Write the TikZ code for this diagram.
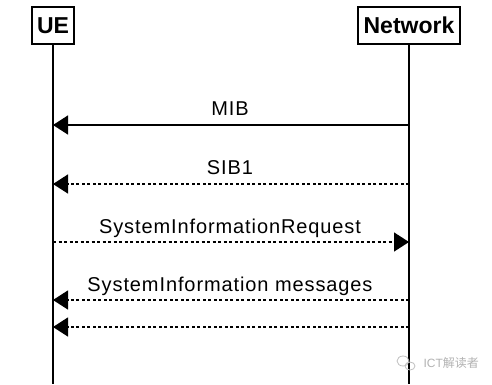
\documentclass[tikz,border=0pt]{standalone}
\usepackage{fontspec}
\setmainfont{Liberation Sans}
\newfontfamily\lblfont[LetterSpace=4.5]{Liberation Sans}
\newfontfamily\cjkfont{Noto Sans CJK SC}
\usetikzlibrary{arrows.meta}
\begin{document}
\begin{tikzpicture}[x=1pt,y=-1pt,
  entity/.style={draw,line width=1.4pt,minimum height=37pt,inner sep=0pt,font=\fontsize{23}{26}\selectfont\bfseries},
  life/.style={line width=1.4pt},
  msg/.style={line width=1.4pt,-{Triangle[length=15pt,width=19pt]}},
  dotmsg/.style={msg,dash pattern=on 3pt off 2.5pt},
  lbl/.style={font=\lblfont\fontsize{20}{24}\selectfont,anchor=base},
  wmark/.style={black!25,line width=0.8pt}]
\useasboundingbox (0,0) rectangle (492,384);
\node[entity,minimum width=42pt] (ue) at (53,25.5) {UE};
\node[entity,minimum width=102pt] (nw) at (409,25.5) {Network};
\coordinate (ueb) at (53,384);
\coordinate (nwb) at (409,384);
\draw[life] (ue.south) -- (ueb);
\draw[life] (nw.south) -- (nwb);
% message anchor points
\coordinate (u1) at (53,125);  \coordinate (n1) at (409,125);
\coordinate (u2) at (53,184);  \coordinate (n2) at (409,184);
\coordinate (u3) at (53,242);  \coordinate (n3) at (409,242);
\coordinate (u4) at (53,300);  \coordinate (n4) at (409,300);
\coordinate (u5) at (53,327);  \coordinate (n5) at (409,327);
\draw[msg] (n1) -- (u1);
\draw[dotmsg] (n2) -- (u2);
\draw[dotmsg] (u3) -- (n3);
\draw[dotmsg] (n4) -- (u4);
\draw[dotmsg] (n5) -- (u5);
\node[lbl] (l1) at (230,115) {MIB};
\node[lbl] (l2) at (230,174) {SIB1};
\node[lbl] (l3) at (230,233) {SystemInformationRequest};
\node[lbl] (l4) at (230,291) {SystemInformation messages};
% watermark
\draw[wmark] (403,361) ellipse (6pt and 5pt);
\draw[wmark] (410,366) ellipse (5pt and 4pt);
\node[font=\fontsize{12}{14}\selectfont,text=black!30,anchor=base west] (wm) at (420,367) {ICT{\cjkfont 解读者}};
\end{tikzpicture}
\end{document}
